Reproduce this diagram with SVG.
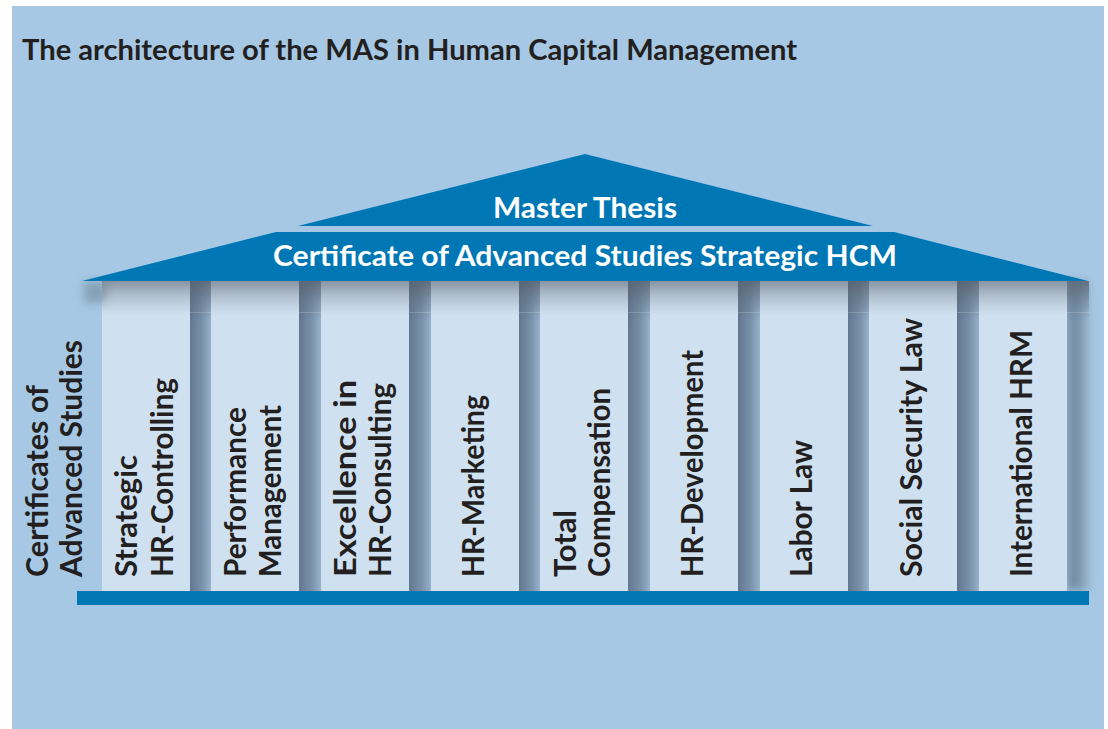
<svg xmlns="http://www.w3.org/2000/svg" width="1108" height="729" viewBox="0 0 1108 729">
  <defs>
    <style>
      .lbl { font-family: Lato, "Open Sans", "DejaVu Sans", sans-serif; font-weight: 700; font-size: 30px; fill: #231f20; }
      .ttl { font-family: Lato, "Open Sans", "DejaVu Sans", sans-serif; font-weight: 700; font-size: 29px; fill: #231f20; }
      .roof-txt { font-family: Lato, "Open Sans", "DejaVu Sans", sans-serif; font-weight: 700; font-size: 29px; fill: #ffffff; text-anchor: middle; }
      .roof { fill: #0077b5; }
      .col { fill: #cfe0f0; }
      .gap { fill: url(#gapShade); }
      .gap-top { fill: url(#gapTop); }
    </style>
    <!-- recess between columns: darker on the left, lighter to the right -->
    <linearGradient id="gapShade" x1="0" y1="0" x2="1" y2="0">
      <stop offset="0" stop-color="#627890"/>
      <stop offset="0.55" stop-color="#7890a8"/>
      <stop offset="1" stop-color="#97b2cc"/>
    </linearGradient>
    <linearGradient id="gapTop" x1="0" y1="0" x2="0" y2="1">
      <stop offset="0" stop-color="#3e4f60" stop-opacity="0.45"/>
      <stop offset="1" stop-color="#3e4f60" stop-opacity="0"/>
    </linearGradient>
    <!-- shadow cast by the roof onto the columns -->
    <linearGradient id="roofShade" x1="0" y1="0" x2="0" y2="1">
      <stop offset="0" stop-color="#5a6470" stop-opacity="0.62"/>
      <stop offset="0.45" stop-color="#6a7582" stop-opacity="0.3"/>
      <stop offset="1" stop-color="#8090a0" stop-opacity="0"/>
    </linearGradient>
    <filter id="soft" x="-50%" y="-50%" width="200%" height="200%">
      <feGaussianBlur stdDeviation="5"/>
    </filter>
  </defs>

  <!-- page and panel -->
  <rect x="0" y="0" width="1108" height="729" fill="#ffffff"/>
  <rect x="12" y="6" width="1092" height="723" fill="#a6c8e4"/>

  <text id="title" class="ttl" x="22" y="60" textLength="775" lengthAdjust="spacingAndGlyphs">The architecture of the MAS in Human Capital Management</text>

  <!-- columns and recesses -->
  <g id="colonnade">
    <rect class="gap" x="190" y="281" width="21" height="310"/>
    <rect class="gap" x="299" y="281" width="22" height="310"/>
    <rect class="gap" x="409" y="281" width="22" height="310"/>
    <rect class="gap" x="519" y="281" width="21" height="310"/>
    <rect class="gap" x="628" y="281" width="22" height="310"/>
    <rect class="gap" x="738" y="281" width="22" height="310"/>
    <rect class="gap" x="848" y="281" width="21" height="310"/>
    <rect class="gap" x="957" y="281" width="22" height="310"/>
    <rect class="gap" x="1067" y="281" width="22" height="310" filter="url(#soft)" opacity="0.9"/>
    <rect class="gap-top" x="102" y="281" width="987" height="40"/>
    <rect x="190" y="312" width="900" height="1" fill="#ffffff" opacity="0.18"/>
  </g>

  <g id="col-1"><rect class="col" x="102" y="281" width="88" height="310"/></g>
  <g id="col-2"><rect class="col" x="211" y="281" width="88" height="310"/></g>
  <g id="col-3"><rect class="col" x="321" y="281" width="88" height="310"/></g>
  <g id="col-4"><rect class="col" x="431" y="281" width="88" height="310"/></g>
  <g id="col-5"><rect class="col" x="540" y="281" width="88" height="310"/></g>
  <g id="col-6"><rect class="col" x="650" y="281" width="88" height="310"/></g>
  <g id="col-7"><rect class="col" x="760" y="281" width="88" height="310"/></g>
  <g id="col-8"><rect class="col" x="869" y="281" width="88" height="310"/></g>
  <g id="col-9"><rect class="col" x="979" y="281" width="88" height="310"/></g>

  <!-- roof shadow -->
  <rect x="84" y="281" width="22" height="22" fill="#4a5866" opacity="0.35" filter="url(#soft)"/>
  <rect x="102" y="281" width="987" height="34" fill="url(#roofShade)"/>

  <!-- roof -->
  <g id="master-thesis">
    <polygon class="roof" points="585,154 873,226 298,226"/>
    <text class="roof-txt" x="585" y="218" textLength="184" lengthAdjust="spacingAndGlyphs">Master Thesis</text>
  </g>
  <g id="cas-strategic-hcm">
    <polygon class="roof" points="276,232 894,232 1088,281 82,281"/>
    <text class="roof-txt" x="585" y="266" textLength="624" lengthAdjust="spacingAndGlyphs">Certificate of Advanced Studies Strategic HCM</text>
  </g>

  <!-- base -->
  <g id="base"><rect x="77" y="591" width="1012" height="14" fill="#0077b5"/></g>

  <!-- labels -->
  <g id="cas-label">
    <text class="lbl" transform="translate(48,577) rotate(-90)" textLength="192" lengthAdjust="spacingAndGlyphs">Certificates of</text>
    <text class="lbl" transform="translate(82,577) rotate(-90)" textLength="237" lengthAdjust="spacingAndGlyphs">Advanced Studies</text>
  </g>
  <g id="lbl-1">
    <text class="lbl" transform="translate(137,577) rotate(-90)" textLength="122" lengthAdjust="spacingAndGlyphs">Strategic</text>
    <text class="lbl" transform="translate(173,577) rotate(-90)" textLength="199" lengthAdjust="spacingAndGlyphs">HR-Controlling</text>
  </g>
  <g id="lbl-2">
    <text class="lbl" transform="translate(246,577) rotate(-90)" textLength="170" lengthAdjust="spacingAndGlyphs">Performance</text>
    <text class="lbl" transform="translate(281,577) rotate(-90)" textLength="172" lengthAdjust="spacingAndGlyphs">Management</text>
  </g>
  <g id="lbl-3">
    <text class="lbl" transform="translate(356,577) rotate(-90)" textLength="197" lengthAdjust="spacingAndGlyphs">Excellence in</text>
    <text class="lbl" transform="translate(391,577) rotate(-90)" textLength="194" lengthAdjust="spacingAndGlyphs">HR-Consulting</text>
  </g>
  <g id="lbl-4">
    <text class="lbl" transform="translate(484,577) rotate(-90)" textLength="182" lengthAdjust="spacingAndGlyphs">HR-Marketing</text>
  </g>
  <g id="lbl-5">
    <text class="lbl" transform="translate(576,577) rotate(-90)" textLength="67" lengthAdjust="spacingAndGlyphs">Total</text>
    <text class="lbl" transform="translate(610,577) rotate(-90)" textLength="189" lengthAdjust="spacingAndGlyphs">Compensation</text>
  </g>
  <g id="lbl-6">
    <text class="lbl" transform="translate(703,577) rotate(-90)" textLength="227" lengthAdjust="spacingAndGlyphs">HR-Development</text>
  </g>
  <g id="lbl-7">
    <text class="lbl" transform="translate(812,577) rotate(-90)" textLength="137" lengthAdjust="spacingAndGlyphs">Labor Law</text>
  </g>
  <g id="lbl-8">
    <text class="lbl" transform="translate(922,577) rotate(-90)" textLength="259" lengthAdjust="spacingAndGlyphs">Social Security Law</text>
  </g>
  <g id="lbl-9">
    <text class="lbl" transform="translate(1032,577) rotate(-90)" textLength="247" lengthAdjust="spacingAndGlyphs">International HRM</text>
  </g>
</svg>
